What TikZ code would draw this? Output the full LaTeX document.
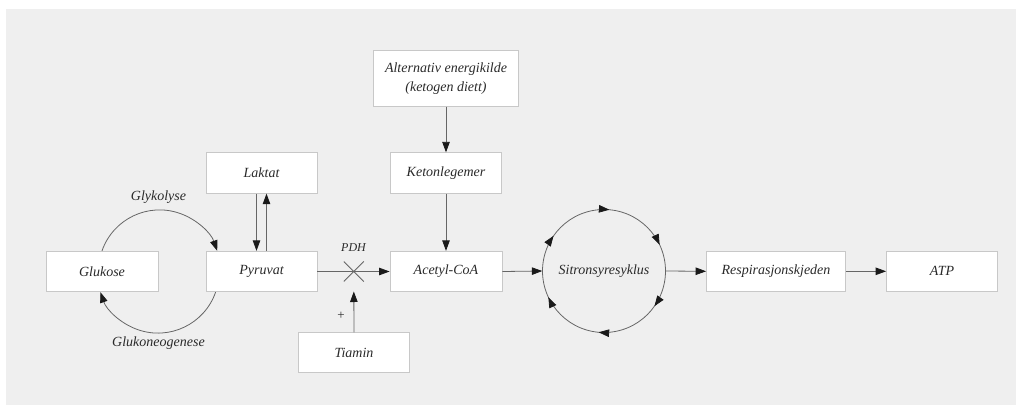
\documentclass[tikz,border=0pt]{standalone}
\usepackage{fontspec}
\setmainfont{Liberation Serif}
\usetikzlibrary{arrows.meta,decorations.markings}
\definecolor{bg}{HTML}{EFEFEF}
\definecolor{boxline}{HTML}{C8C8C8}
\definecolor{ln}{HTML}{666666}
\definecolor{tip}{HTML}{1A1A1A}
\definecolor{txt}{HTML}{2A2A2A}
\begin{document}
\begin{tikzpicture}[x=1pt,y=-1pt,
  box/.style={draw=boxline, fill=white, line width=0.8pt, inner sep=0pt,
    minimum width=#1, minimum height=40.5pt, text=txt, align=center,
    font=\fontsize{14}{19}\selectfont\itshape},
  lbl/.style={text=txt, inner sep=0pt, font=\fontsize{14}{16}\selectfont\itshape},
  small/.style={text=txt, inner sep=0pt, font=\fontsize{12}{14}\selectfont\itshape},
  arr/.style={draw=ln, line width=0.8pt, -{Triangle[length=10.5pt,width=7.5pt,color=tip]}},
  plainline/.style={draw=ln, line width=0.8pt},
  cyclemarks/.style={decoration={markings,
    mark=at position 0.097 with {\arrow{Triangle[length=10.5pt,width=7.5pt,color=tip]}},
    mark=at position 0.264 with {\arrow{Triangle[length=10.5pt,width=7.5pt,color=tip]}},
    mark=at position 0.430 with {\arrow{Triangle[length=10.5pt,width=7.5pt,color=tip]}},
    mark=at position 0.597 with {\arrow{Triangle[length=10.5pt,width=7.5pt,color=tip]}},
    mark=at position 0.764 with {\arrow{Triangle[length=10.5pt,width=7.5pt,color=tip]}},
    mark=at position 0.930 with {\arrow{Triangle[length=10.5pt,width=7.5pt,color=tip]}}},
    postaction={decorate}}
]
\useasboundingbox (0,0) rectangle (1022,407);
\fill[bg] (6,9) rectangle (1016,405);

% boxes
\node[box=112] (glukose) at (102,271.5) {Glukose};
\node[box=111] (pyruvat) at (261.5,271.5) {Pyruvat};
\node[box=111] (laktat) at (261.5,173) {Laktat};
\node[box=145, minimum height=55.5pt] (alt) at (446,78.5) {Alternativ energikilde\\(ketogen diett)};
\node[box=111] (keton) at (446,173) {Ketonlegemer};
\node[box=112] (acetyl) at (446,271.5) {Acetyl-CoA};
\node[box=111, minimum height=40pt] (tiamin) at (354,352.7) {Tiamin};
\node[box=139, minimum height=40pt] (resp) at (776,271.3) {Respirasjonskjeden};
\node[box=111, minimum height=40pt] (atp) at (942,271.3) {ATP};
\node[circle, minimum size=123pt, inner sep=0pt, text=txt,
  font=\fontsize{14}{16}\selectfont\itshape] (cyc) at (604,271) {Sitronsyresyklus};

% labels
\node[lbl] (glyk) at (158.5,197.5) {Glykolyse};
\node[lbl] (glukneo) at (158.5,343.5) {Glukoneogenese};
\node[small] (pdhlbl) at (353.5,248) {PDH};
\node[small, font=\fontsize{13}{14}\selectfont] (plus) at (341,316) {+};

\coordinate (pdh) at (353.8,271.5);
\coordinate (tiamintip) at (353.8,291.5);

% connectors
\draw[arr] (glukose.north) arc[start angle=-160.8, end angle=-19.2, radius=61];
\draw[arr] ([xshift=10pt]pyruvat.south west) arc[start angle=19.2, end angle=160.8, radius=61];
\draw[arr] ([xshift=-5pt]laktat.south) -- ([xshift=-5pt]pyruvat.north);
\draw[arr] ([xshift=5pt]pyruvat.north) -- ([xshift=5pt]laktat.south);
\draw[arr] (alt.south) -- (keton.north);
\draw[arr] (keton.south) -- (acetyl.north);
\draw[arr] (pyruvat.east) -- (acetyl.west);
\draw[plainline] ([shift={(-10,-10)}]pdh) -- ([shift={(10,10)}]pdh);
\draw[plainline] ([shift={(-10,10)}]pdh) -- ([shift={(10,-10)}]pdh);
\draw[arr] (tiamin.north) -- (tiamintip);
\draw[arr] (acetyl.east) -- (cyc.west);
\draw[plainline, cyclemarks] (cyc.center) circle[radius=61.5];
\draw[arr] (cyc.east) -- (resp.west);
\draw[arr] (resp.east) -- (atp.west);
\end{tikzpicture}
\end{document}
